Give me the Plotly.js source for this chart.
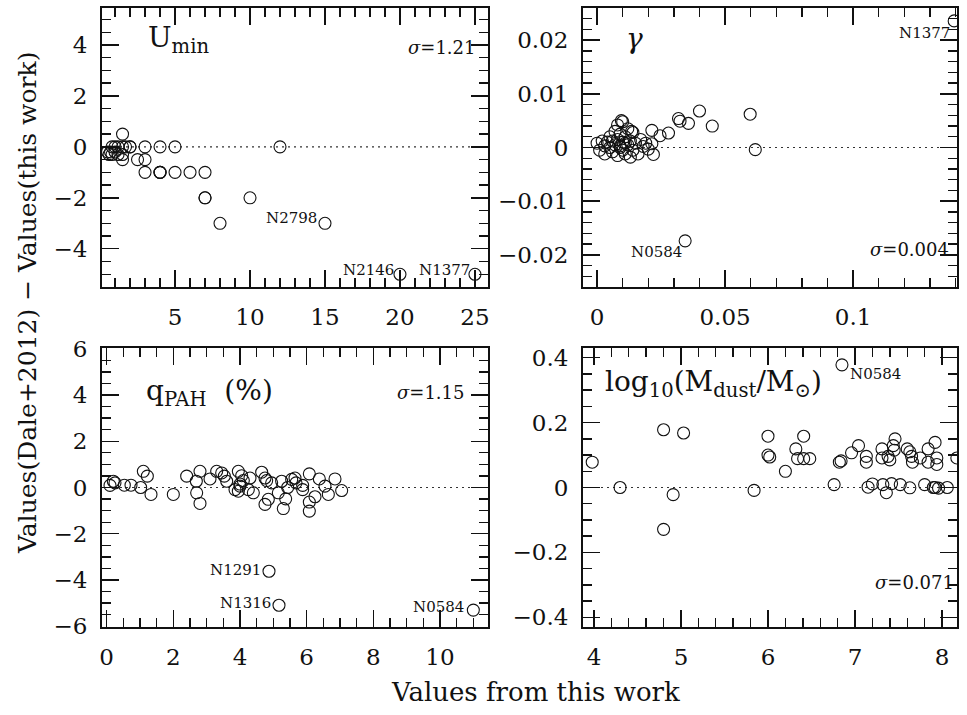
<!DOCTYPE html>
<html><head><meta charset="utf-8">
<script src="https://cdn.plot.ly/plotly-3.0.1.min.js"></script>
<style>html,body{margin:0;padding:0;background:#fff}#wrap{position:relative;width:967px;height:715px}.layer{position:absolute;left:0;top:0;width:967px;height:715px}</style>
</head><body><div id="wrap"><div id="top" class="layer"></div><div id="bottom" class="layer"></div><div id="text" class="layer"></div></div>
<script>
// U_min panel
const uminX = [0.5,0.6,0.7,0.8,1.0,0.8,1.0,1.2,1.2,1.5,1.5,1.7,2.0,2.0,3.0,4.0,5.0,12.0,1.5,1.5,2.5,3.0,3.0,4.0,4.0,4.0,5.0,6.0,7.0,7.0,7.0,10.0,8.0,15.0,20.0,25.0];
const uminY = [-0.2,-0.3,-0.2,-0.3,-0.2,0,0,-0.3,0,0.5,0,0,0,0,0,0,0,0,-0.5,-0.3,-0.5,-0.5,-1,-1,-1,-1,-1,-1,-1,-2,-2,-2,-3,-3,-5,-5];
// gamma panel
const gammaX = [0.000,0.001,0.002,0.003,0.003,0.004,0.005,0.005,0.006,0.006,0.007,0.007,0.008,0.008,0.008,0.009,0.009,0.010,0.010,0.010,0.011,0.011,0.012,0.012,0.013,0.013,0.014,0.014,0.015,0.016,0.017,0.018,0.019,0.020,0.009,0.011,0.0095,0.0135,0.0214,0.0246,0.0279,0.0214,0.022,0.0318,0.0324,0.0357,0.040,0.045,0.0598,0.0618,0.0344,0.1395];
const gammaY = [0.0008,-0.0005,0.0012,0.0003,-0.0012,0.0010,0.0000,0.0020,-0.0008,0.0012,0.0030,0.0005,-0.0015,0.0015,0.0042,0.0003,0.0025,-0.0005,0.0010,0.0048,0.0020,-0.0012,0.0005,0.0035,-0.0018,0.0012,0.0028,-0.0005,0.0008,-0.0012,0.0015,0.0002,0.0008,-0.0003,0.0,0.0008,0.0050,0.0030,0.0032,0.0022,0.0027,0.0007,-0.0013,0.0054,0.0049,0.0045,0.0068,0.004,0.0062,-0.0004,-0.0174,0.0236];
// q_PAH panel
const qpahX = [0.1,0.2,0.25,0.53,0.73,1.02,1.1,1.22,1.33,2.0,2.4,2.69,2.8,2.7,2.8,3.1,3.3,3.45,3.53,3.6,3.85,3.95,3.95,4.0,4.05,4.1,4.0,4.25,4.3,4.4,4.65,4.75,4.8,4.75,4.85,4.95,5.15,5.25,5.3,5.37,5.43,5.55,5.65,5.68,5.88,5.88,6.08,6.08,6.08,6.25,6.38,6.55,6.65,6.85,7.05,4.87,5.17,11.0];
const qpahY = [0.09,0.27,0.2,0.1,0.1,0.0,0.7,0.49,-0.3,-0.3,0.49,0.27,0.7,-0.23,-0.69,0.37,0.7,0.63,0.49,0.27,-0.09,-0.16,0.7,0.06,0.51,0.3,0.15,-0.09,0.41,-0.23,0.66,0.41,0.3,-0.73,-0.51,0.2,-0.23,0.27,-0.91,-0.49,0.0,0.35,0.41,0.2,0.09,-0.09,0.59,-0.63,-1.02,-0.4,0.37,0.06,-0.3,0.37,-0.13,-3.62,-5.09,-5.3];
// log10(Mdust/Msun) panel
const mdustX = [3.98,4.30,4.80,5.03,4.91,4.80,5.84,6.0,6.0,6.02,6.2,6.32,6.41,6.34,6.41,6.48,6.76,6.82,6.84,6.85,6.96,7.04,7.13,7.13,7.15,7.2,7.31,7.31,7.32,7.36,7.38,7.40,7.42,7.44,7.46,7.45,7.52,7.60,7.63,7.65,7.66,7.63,7.75,7.80,7.84,7.84,7.92,7.94,7.94,7.92,7.96,8.06,8.17,7.90];
const mdustY = [0.078,0.0,0.178,0.168,-0.022,-0.129,-0.009,0.158,0.10,0.094,0.05,0.119,0.158,0.089,0.089,0.089,0.009,0.078,0.082,0.378,0.107,0.129,0.096,0.078,0.001,0.011,0.119,0.091,0.009,-0.016,0.096,0.085,0.012,0.129,0.15,0.115,0.009,0.119,0.11,0.096,0.078,-0.001,0.091,0.009,0.119,0.078,0.139,0.091,0.071,0.0,-0.002,0.0,0.091,0.0];

const W = 967, H = 715;
const PX = v => v / W, PY = v => 1 - v / H;
const INK = '#111';
const SERIF = 'DejaVu Serif';
const CLEAR = 'rgba(0,0,0,0)';

function tr(x, y, xa, ya){
  return {type:'scatter', mode:'markers', x:x, y:y, xaxis:xa, yaxis:ya, hoverinfo:'skip', showlegend:false,
    marker:{symbol:'circle-open', size:12, color:INK, line:{width:1.1, color:INK}}};
}
function mn(dt){ return {ticks:'inside', ticklen:9, tickwidth:1.4, tickcolor:INK, dtick:dt, tick0:0, showgrid:false}; }
function ax(opts){
  return Object.assign({showline:true, linewidth:2, linecolor:INK, mirror:'ticks', ticks:'inside', ticklen:17, tickwidth:1.4, tickcolor:INK,
    showgrid:false, zeroline:false, tickfont:{family:SERIF, size:23, color:INK}, ticklabelstandoff:8}, opts);
}
const xd1 = [102/W, 488/W], xd2 = [583/W, 957/W];
const yd1 = [PY(287), PY(8)], yd2 = [PY(627), PY(348)];
const zeroLines = [['x','y'],['x2','y2']].map(p => ({type:'line', layer:'below', xref:p[0]+' domain', yref:p[1], x0:0, x1:1, y0:0, y1:0,
  line:{color:'#333', width:1.2, dash:'2px,4px'}}));
const base = {width:W, height:H, margin:{l:0, r:0, t:0, b:0}, showlegend:false, paper_bgcolor:CLEAR, plot_bgcolor:CLEAR};
const cfg = {staticPlot:true, displayModeBar:false};

// top row: U_min and gamma
const layoutTop = Object.assign({}, base, {
  xaxis: ax({domain:xd1, anchor:'y', range:[0.13, 25.87], dtick:5, tick0:0, minor:mn(1)}),
  yaxis: ax({domain:yd1, anchor:'x', range:[-5.5, 5.45], dtick:2, tick0:0, minor:mn(0.5)}),
  xaxis2: ax({domain:xd2, anchor:'y2', range:[-0.0055, 0.1406], dtick:0.05, tick0:0, minor:mn(0.01)}),
  yaxis2: ax({domain:yd1, anchor:'x2', range:[-0.026, 0.026], dtick:0.01, tick0:0, minor:mn(0.002)}),
  shapes: zeroLines
});
Plotly.newPlot('top', [tr(uminX, uminY, 'x', 'y'), tr(gammaX, gammaY, 'x2', 'y2')], layoutTop, cfg);

// bottom row: q_PAH and log Mdust
const layoutBottom = Object.assign({}, base, {
  xaxis: ax({domain:xd1, anchor:'y', range:[-0.14, 11.44], dtick:2, tick0:0, minor:mn(0.5)}),
  yaxis: ax({domain:yd2, anchor:'x', range:[-6.03, 6.03], dtick:2, tick0:0, minor:mn(0.5)}),
  xaxis2: ax({domain:xd2, anchor:'y2', range:[3.874, 8.172], dtick:1, tick0:0, minor:mn(0.2)}),
  yaxis2: ax({domain:yd2, anchor:'x2', range:[-0.43, 0.43], dtick:0.2, tick0:0, minor:mn(0.05)}),
  shapes: zeroLines
});
Plotly.newPlot('bottom', [tr(qpahX, qpahY, 'x', 'y'), tr(mdustX, mdustY, 'x2', 'y2')], layoutBottom, cfg);

// text layer: panel names, sigma values, galaxy labels, axis titles
function ann(text, x, y, xanchor, size){
  return {text:text, xref:'paper', yref:'paper', x:PX(x), y:PY(y), xanchor:xanchor, yanchor:'middle',
    showarrow:false, font:{family:SERIF, size:size, color:INK}};
}
const layoutText = Object.assign({}, base, {
  xaxis:{visible:false}, yaxis:{visible:false},
  annotations: [
    ann('U<sub>min</sub>', 146, 40, 'left', 28),
    ann('<i>γ</i>', 624, 38, 'left', 28),
    ann('q<sub>PAH</sub>  (%)', 144, 392, 'left', 28),
    ann('log<sub>10</sub>(M<sub>dust</sub>/M<sub>⊙</sub>)', 603, 383, 'left', 28),
    ann('<i>σ</i>=1.21', 477, 47, 'right', 18),
    ann('<i>σ</i>=0.004', 951, 250, 'right', 18),
    ann('<i>σ</i>=1.15', 466, 392, 'right', 18),
    ann('<i>σ</i>=0.071', 956, 582, 'right', 18),
    ann('N2798', 319, 218, 'right', 15),
    ann('N2146', 396, 270, 'right', 15),
    ann('N1377', 472, 270, 'right', 15),
    ann('N1377', 952, 33, 'right', 15),
    ann('N0584', 684, 252, 'right', 15),
    ann('N1291', 263, 570, 'right', 15),
    ann('N1316', 273, 603, 'right', 15),
    ann('N0584', 466, 607, 'right', 15),
    ann('N0584', 848, 374, 'left', 15),
    ann('Values from this work', 535, 692, 'center', 26),
    {text:'Values(Dale+2012) − Values(this work)', xref:'paper', yref:'paper', x:PX(28), y:PY(303), xanchor:'center', yanchor:'middle',
     textangle:-90, showarrow:false, font:{family:SERIF, size:25, color:INK}}
  ]
});
Plotly.newPlot('text', [], layoutText, cfg);
</script>
</body></html>
